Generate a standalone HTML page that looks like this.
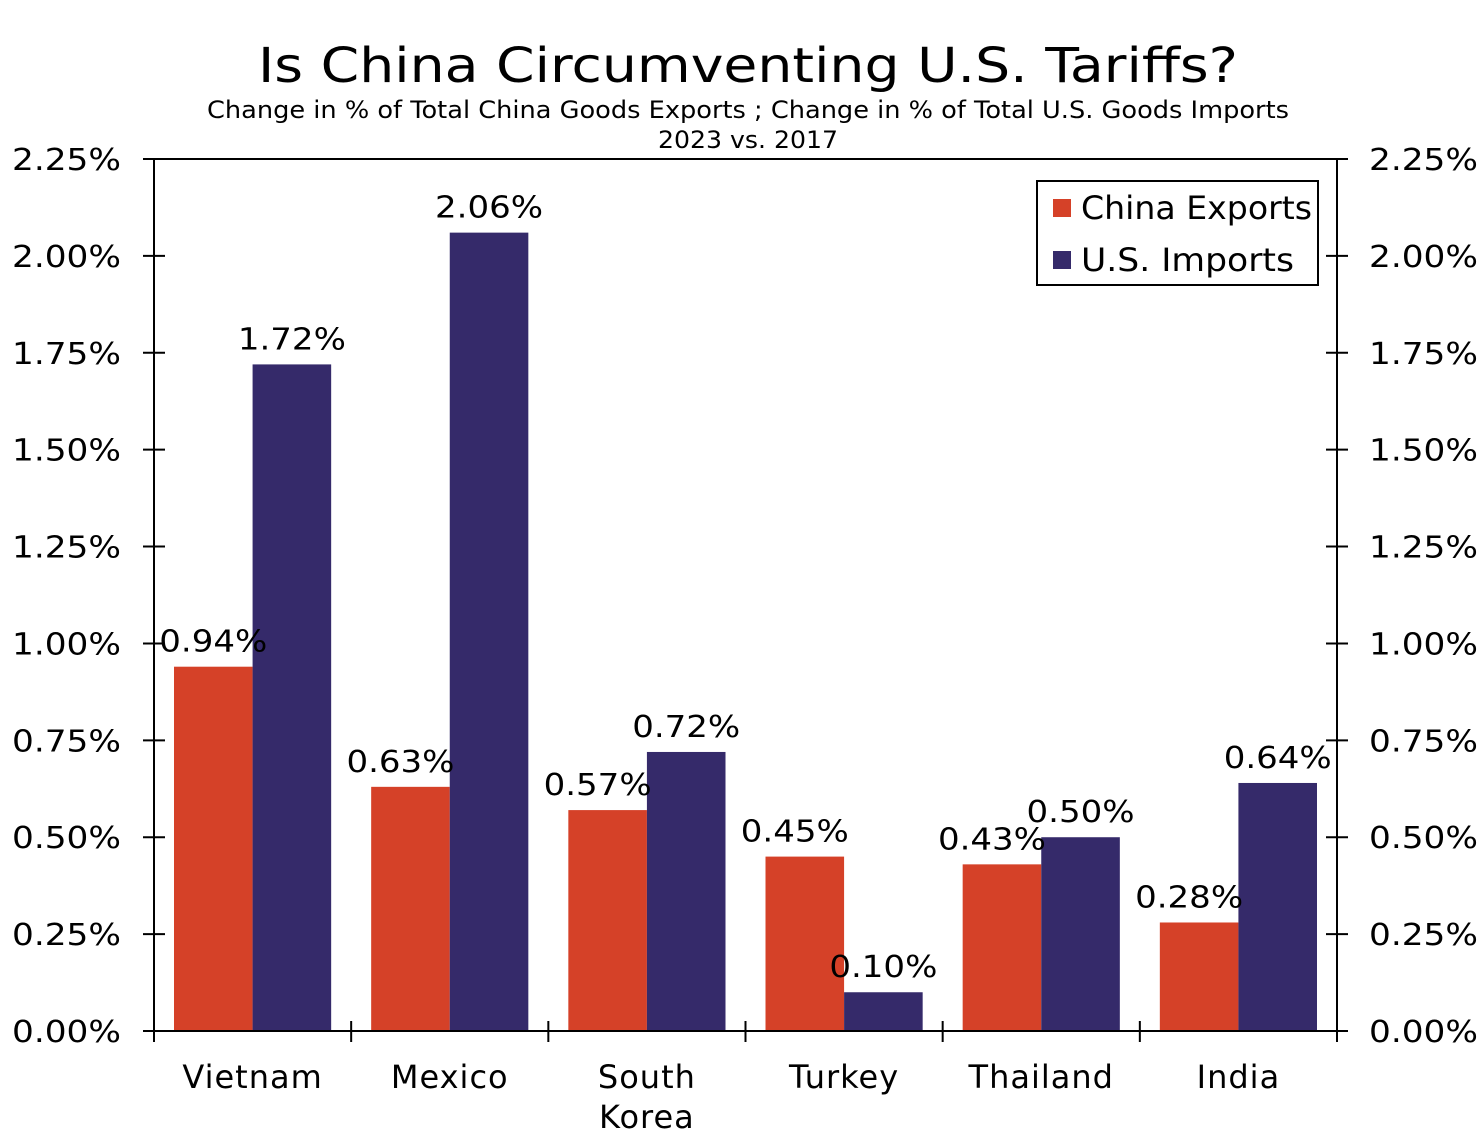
<!DOCTYPE html>
<html><head><meta charset="utf-8"><style>
body{margin:0;background:#fff}
svg text{font-family:"DejaVu Sans","Liberation Sans",sans-serif;fill:#000}
</style></head><body>
<svg id="chart" width="1483" height="1138" viewBox="0 0 1483 1138" xmlns="http://www.w3.org/2000/svg">
<text x="748" y="82" font-size="48" text-anchor="middle" textLength="980" lengthAdjust="spacingAndGlyphs">Is China Circumventing U.S. Tariffs?</text>
<text x="748" y="118" font-size="24" text-anchor="middle" textLength="1082" lengthAdjust="spacingAndGlyphs">Change in % of Total China Goods Exports ; Change in % of Total U.S. Goods Imports</text>
<text x="748" y="148" font-size="24" text-anchor="middle" textLength="180" lengthAdjust="spacingAndGlyphs">2023 vs. 2017</text>
<g id="bars"></g>
<g id="labels"></g>
<g id="axes"></g>
<g>
<rect x="1037" y="181" width="281" height="104" fill="#fff" stroke="#000" stroke-width="2"/>
<rect x="1053" y="199" width="18" height="18" fill="#D54128"/>
<text x="1081" y="219" font-size="32" textLength="231" lengthAdjust="spacingAndGlyphs">China Exports</text>
<rect x="1053" y="251" width="18" height="18" fill="#352A6A"/>
<text x="1081" y="271" font-size="32" textLength="213" lengthAdjust="spacingAndGlyphs">U.S. Imports</text>
</g>
</svg>
<script>
const categories=[["Vietnam"],["Mexico"],["South","Korea"],["Turkey"],["Thailand"],["India"]];
const chinaExports=[0.94,0.63,0.57,0.45,0.43,0.28];
const usImports=[1.72,2.06,0.72,0.10,0.50,0.64];
const tickValues=[0,0.25,0.5,0.75,1,1.25,1.5,1.75,2,2.25];
const NS="http://www.w3.org/2000/svg";
const X0=154,X1=1337,Y0=1031,Y1=159,MAX=2.25;
const y=v=>Y0-(v/MAX)*(Y0-Y1);
const gw=(X1-X0)/categories.length;
const gx=i=>X0+i*gw;
function mk(tag,attrs,parent){const e=document.createElementNS(NS,tag);for(const k in attrs)e.setAttribute(k,attrs[k]);parent.appendChild(e);return e;}
const bars=document.getElementById('bars'),labels=document.getElementById('labels'),axes=document.getElementById('axes');
const pad=20,bw=(gw-2*pad)/2;
[[chinaExports,'#D54128','china',-10],[usImports,'#352A6A','us',0]].forEach(([vals,col,nm,off],s)=>{
 vals.forEach((v,i)=>{
  const x=gx(i)+pad+s*bw;
  const r=mk('rect',{x:x,y:y(v),width:bw,height:Y0-y(v),fill:col},bars);
  
  
  const t=mk('text',{x:x+bw/2+(i===0?0:off),y:y(v)-15,'font-size':30,'text-anchor':'middle',textLength:108,lengthAdjust:'spacingAndGlyphs'},labels);
  t.textContent=v.toFixed(2)+'%';
  
  
 });
});
mk('path',{d:`M${X0} ${Y1}V${Y0}H${X1}V${Y1}M${X0} ${Y1}H1348`,stroke:'#000','stroke-width':2,fill:'none'},axes);
tickValues.forEach(v=>{
 const yy=y(v);
 mk('path',{d:`M143 ${yy}H165M1326 ${yy}H1348`,stroke:'#000','stroke-width':2},axes);
 const l=mk('text',{x:121,y:yy+11,'font-size':30,'text-anchor':'end',textLength:109,lengthAdjust:'spacingAndGlyphs'},axes);
 l.textContent=v.toFixed(2)+'%';
 
 
 const r=mk('text',{x:1369,y:yy+11,'font-size':30,textLength:109,lengthAdjust:'spacingAndGlyphs'},axes);
 r.textContent=v.toFixed(2)+'%';
 
 
});
for(let i=0;i<=categories.length;i++){
 mk('path',{d:`M${gx(i)} 1021V1042`,stroke:'#000','stroke-width':2},axes);
}
categories.forEach((c,i)=>{
 c.forEach((line,j)=>{
  const t=mk('text',{x:gx(i)+gw/2,y:1088+j*40,'font-size':32,'text-anchor':'middle','letter-spacing':1},axes);
  t.textContent=line;
  
  
 });
});
</script>
</body></html>
